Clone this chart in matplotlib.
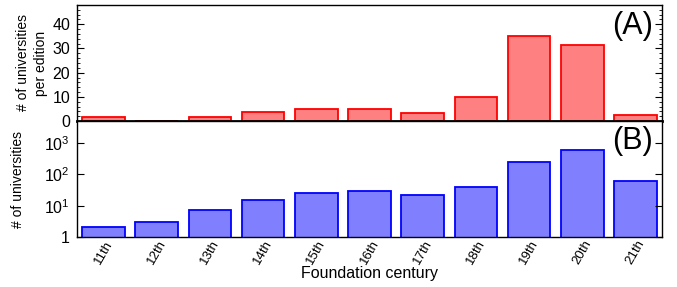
import numpy as np
import matplotlib.pyplot as plt
from matplotlib.ticker import MultipleLocator, LogLocator, FixedLocator, NullFormatter

plt.rcParams['font.family'] = ['Liberation Sans', 'DejaVu Sans']
plt.rcParams['mathtext.fontset'] = 'custom'
plt.rcParams['mathtext.rm'] = 'Liberation Sans'
plt.rcParams['mathtext.it'] = 'Liberation Sans:italic'

centuries = ['11th', '12th', '13th', '14th', '15th', '16th', '17th', '18th', '19th', '20th', '21th']
# (A) universities per edition
per_edition = [1.8, 0.2, 1.8, 3.6, 5.1, 4.9, 3.3, 9.8, 35.2, 31.6, 2.6]
# (B) number of universities (log scale)
n_univ = [2.1, 3.05, 7.2, 15.2, 25, 28.8, 21.5, 40, 251, 605, 61]


def generate_plot():
    fig = plt.figure(figsize=(6.77, 2.87), dpi=100)
    ax1 = fig.add_axes([0.1137, 0.578, 0.8643, 0.405])
    ax2 = fig.add_axes([0.1137, 0.174, 0.8643, 0.404])
    x = np.arange(len(centuries))

    ax1.bar(x, per_edition, width=0.8, color='#ff8080', edgecolor='red', linewidth=1.3)
    ax2.bar(x, n_univ, width=0.8, color='#8080ff', edgecolor='blue', linewidth=1.3)

    for ax in (ax1, ax2):
        ax.set_xlim(-0.5, len(centuries) - 0.5)
        ax.tick_params(axis='y', which='both', direction='in', left=True, right=True,
                       labelsize=11.5, pad=5)
        ax.tick_params(axis='y', which='major', length=5)
        ax.tick_params(axis='y', which='minor', length=2.5)
        ax.tick_params(axis='x', which='both', length=0)
        for s in ax.spines.values():
            s.set_linewidth(1.0)

    ax1.set_ylim(0, 48)
    ax1.yaxis.set_major_locator(MultipleLocator(10))
    ax1.yaxis.set_minor_locator(MultipleLocator(2))
    ax1.set_xticks([])
    ax1.spines['bottom'].set_linewidth(2.0)
    ax1.set_ylabel('# of universities\nper edition', fontsize=10, linespacing=1.35, labelpad=3)
    ax1.text(0.985, 0.95, '(A)', transform=ax1.transAxes, fontsize=22, ha='right', va='top')

    ax2.set_yscale('log')
    ax2.set_ylim(1, 5000)
    ax2.yaxis.set_major_locator(FixedLocator([1, 10, 100, 1000]))
    ax2.set_yticklabels(['1', r'$10^1$', r'$10^2$', r'$10^3$'])
    ax2.yaxis.set_minor_locator(LogLocator(base=10, subs=np.arange(2, 10)))
    ax2.yaxis.set_minor_formatter(NullFormatter())
    ax2.set_xticks(x)
    ax2.set_xticklabels(centuries, rotation=60, fontsize=9.5, ha='center', va='top')
    ax2.tick_params(axis='x', pad=1)
    ax2.set_ylabel('# of universities', fontsize=10)
    ax2.yaxis.set_label_coords(-0.088, 0.5)
    ax2.set_xlabel('Foundation century', fontsize=11.5)
    ax2.xaxis.label.set_va('center')
    ax2.xaxis.set_label_coords(0.5, -0.31)
    ax2.text(0.985, 0.96, '(B)', transform=ax2.transAxes, fontsize=22, ha='right', va='top')

    fig.savefig('out.png', dpi=100)


if __name__ == '__main__':
    generate_plot()
